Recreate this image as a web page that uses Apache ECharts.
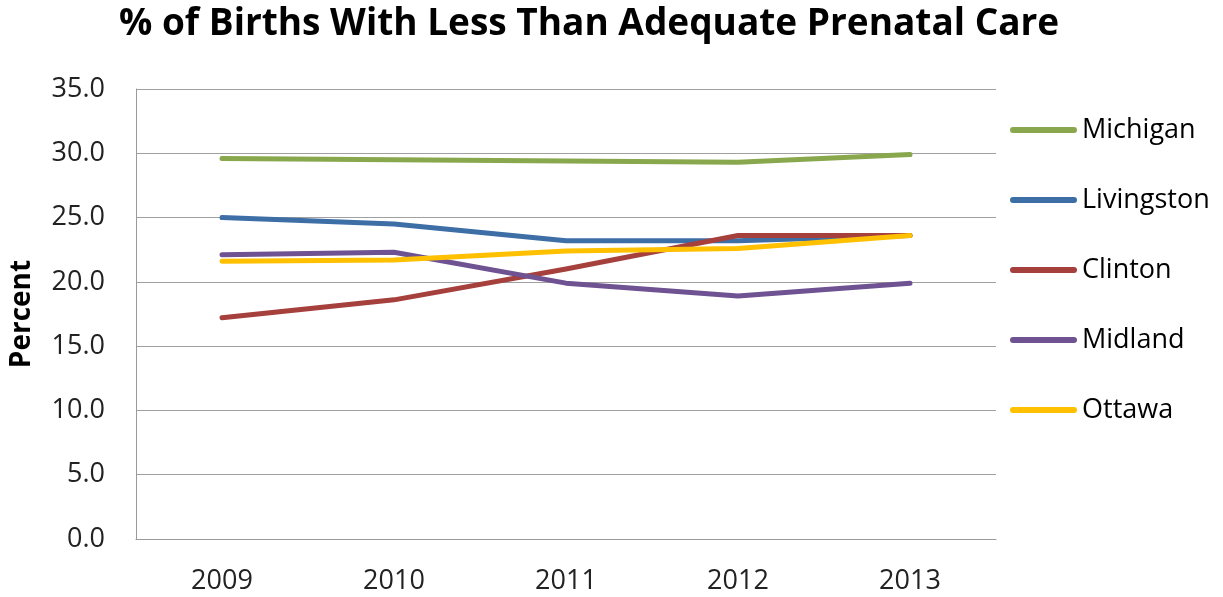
<!DOCTYPE html>
<html>
<head>
<meta charset="utf-8">
<script src="https://cdn.jsdelivr.net/npm/echarts@6/dist/echarts.min.js"></script>
<style>
  html, body { margin: 0; padding: 0; background: #fff; }
  #chart { width: 1223px; height: 597px; }
</style>
</head>
<body>
<div id="chart"></div>
<script>
// Births with less than adequate prenatal care, by area and year (%)
const years = ['2009', '2010', '2011', '2012', '2013'];
const michigan   = [29.6, 29.5, 29.4, 29.3, 29.9];
const livingston = [25.0, 24.5, 23.2, 23.2, 23.6];
const clinton    = [17.2, 18.6, 21.0, 23.6, 23.6];
const midland    = [22.1, 22.3, 19.9, 18.9, 19.9];
const ottawa     = [21.6, 21.7, 22.4, 22.6, 23.6];

const seriesDefs = [
  { name: 'Michigan',   data: michigan,   color: '#89A84E' },
  { name: 'Livingston', data: livingston, color: '#3D6EA6' },
  { name: 'Clinton',    data: clinton,    color: '#A5403D' },
  { name: 'Midland',    data: midland,    color: '#6E5291' },
  { name: 'Ottawa',     data: ottawa,     color: '#FFC000' }
];

const FONT = '"Open Sans", "DejaVu Sans", sans-serif';
// legend key: a short bar with rounded ends
const LINE_ICON = 'path://M3,0 H64 A3,3 0 0 1 64,6 H3 A3,3 0 0 1 3,0 Z';

const chart = echarts.init(document.getElementById('chart'), null, { renderer: 'canvas' });

chart.setOption({
  animation: false,
  backgroundColor: '#ffffff',
  title: {
    text: '% of Births With Less Than Adequate Prenatal Care',
    left: 114,
    top: 1,
    textStyle: { fontFamily: FONT, fontWeight: 'bold', fontSize: 37, color: '#000' }
  },
  legend: {
    orient: 'vertical',
    left: 1005,
    top: 106,
    icon: LINE_ICON,
    itemWidth: 67,
    itemHeight: 6,
    itemGap: 32,
    textStyle: { fontFamily: FONT, fontSize: 27, color: '#000', lineHeight: 38 },
    data: seriesDefs.map(s => s.name)
  },
  grid: { left: 133, right: 227, top: 89, bottom: 58, containLabel: false },
  xAxis: {
    type: 'category',
    data: years,
    boundaryGap: true,
    axisLine: { lineStyle: { color: '#9a9a9a', width: 1 } },
    axisTick: { show: false },
    axisLabel: { fontFamily: FONT, fontSize: 27, color: '#222', margin: 29 }
  },
  yAxis: {
    type: 'value',
    min: 0,
    max: 35,
    interval: 5,
    name: 'Percent',
    nameLocation: 'middle',
    nameRotate: 90,
    nameGap: 100,
    nameTextStyle: { fontFamily: FONT, fontWeight: 'bold', fontSize: 28, color: '#000' },
    axisLine: { show: true, lineStyle: { color: '#9a9a9a', width: 1 } },
    axisTick: { show: false },
    splitLine: { lineStyle: { color: '#a0a0a0', width: 1 } },
    axisLabel: {
      fontFamily: FONT, fontSize: 27, color: '#222', margin: 31,
      formatter: v => v.toFixed(1)
    }
  },
  series: seriesDefs.map(s => ({
    name: s.name,
    type: 'line',
    data: s.data,
    symbol: 'none',
    color: s.color,
    lineStyle: { color: s.color, width: 5, cap: 'round', join: 'round' }
  }))
});
</script>
</body>
</html>
